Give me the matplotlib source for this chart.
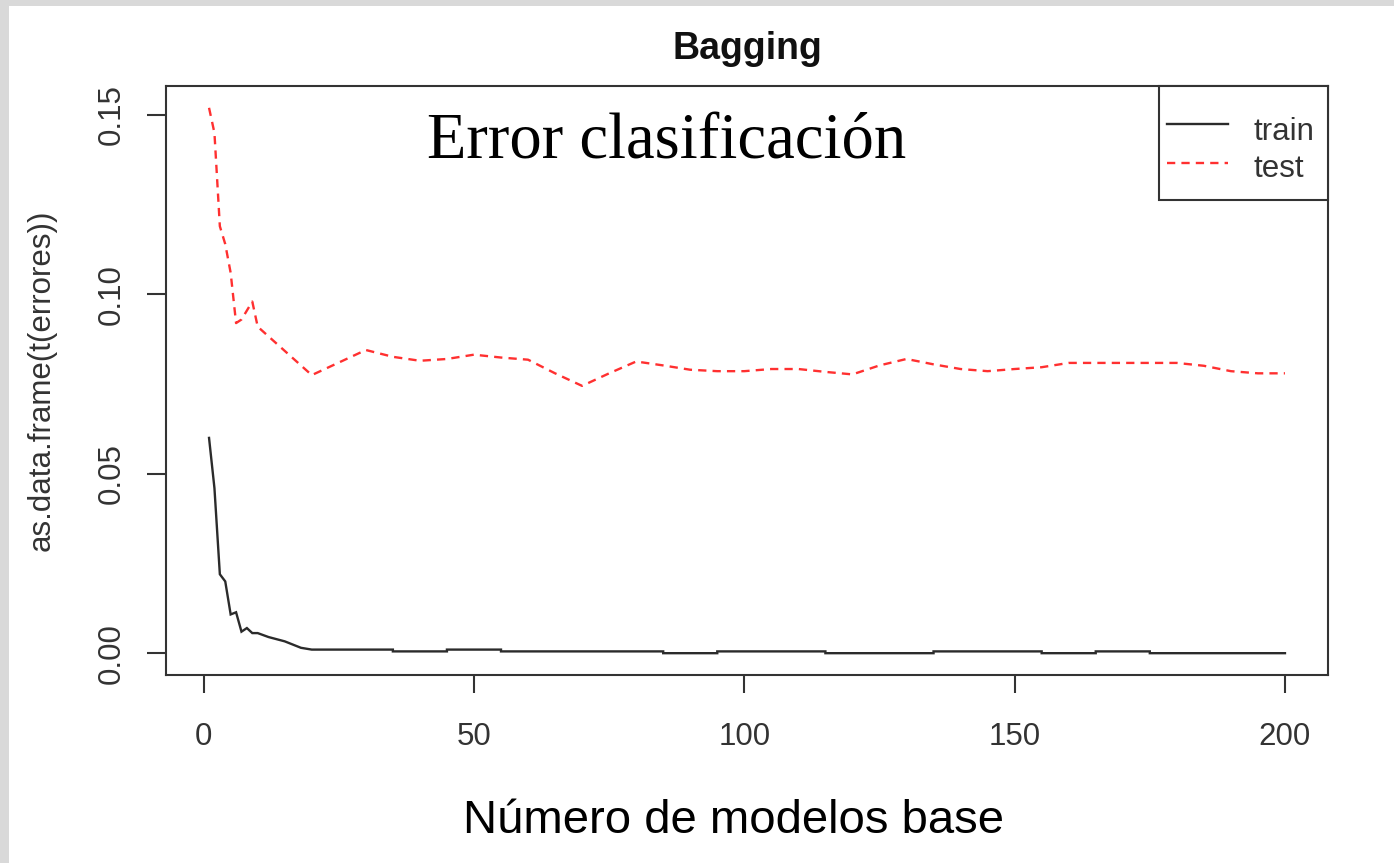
import matplotlib
matplotlib.use("Agg")
import matplotlib.pyplot as plt
from matplotlib.patches import Rectangle
from matplotlib.lines import Line2D

# Error de clasificación de bagging según el número de modelos base
train_n = [1, 2, 3, 4, 5, 6, 7, 8, 9, 10, 12, 15, 18, 20,
           35, 35, 45, 45, 55, 55, 85, 85, 95, 95, 115, 115,
           135, 135, 155, 155, 165, 165, 175, 175, 200]
train_err = [0.060, 0.046, 0.022, 0.020, 0.0108, 0.0114, 0.0060, 0.0070, 0.0056, 0.0056,
             0.0045, 0.0033, 0.0015, 0.0010,
             0.0010, 0.0005, 0.0005, 0.0010, 0.0010, 0.0005, 0.0005, 0.0, 0.0, 0.0005,
             0.0005, 0.0, 0.0, 0.0005, 0.0005, 0.0, 0.0, 0.0005, 0.0005, 0.0, 0.0]

test_n = [1, 2, 3, 4, 5, 6, 7, 8, 9, 10, 20, 30, 35, 40, 45, 50, 55, 60, 65, 70, 75,
          80, 85, 90, 95, 100, 105, 110, 115, 120, 125, 130, 135, 140, 145, 150,
          155, 160, 170, 180, 185, 190, 195, 200]
test_err = [0.152, 0.145, 0.119, 0.114, 0.106, 0.092, 0.093, 0.0955, 0.098, 0.091,
            0.0775, 0.0845, 0.0826, 0.0815, 0.082, 0.0832, 0.0824, 0.0818, 0.078, 0.0745,
            0.078, 0.0813, 0.0802, 0.0790, 0.0786, 0.0786, 0.0792, 0.0792, 0.0784, 0.0777,
            0.0802, 0.0820, 0.0805, 0.0792, 0.0786, 0.0792, 0.0797, 0.0809, 0.0809,
            0.0809, 0.0801, 0.0786, 0.0780, 0.0780]

series_labels = ["train", "test"]
x_ticks = [0, 50, 100, 150, 200]
y_ticks = [0.00, 0.05, 0.10, 0.15]
y_tick_labels = ["0.00", "0.05", "0.10", "0.15"]

W, H = 1394, 863
fig = plt.figure(figsize=(W / 100, H / 100), dpi=100)
fig.patch.set_facecolor("#d9d9d9")
fig.patches.append(Rectangle((9 / W, 0), 1 - 9 / W, 1 - 6 / H, transform=fig.transFigure,
                             facecolor="white", edgecolor="none", zorder=-10))

L, R, T, B = 166, 1328, 86, 675
ax = fig.add_axes([L / W, 1 - B / H, (R - L) / W, (B - T) / H])

ink = "#333333"
train_color = "#2b2b2b"
test_color = "#ff3030"
line_w = 1.7
dash = (0, (3.5, 2.6))

ax.plot(train_n, train_err, color=train_color, lw=line_w, solid_joinstyle="miter")
ax.plot(test_n, test_err, color=test_color, lw=line_w, linestyle=dash)

# R-style 4% padding of the data range
xmin, xmax = min(train_n + test_n), max(train_n + test_n)
ymin, ymax = min(train_err + test_err), max(train_err + test_err)
dx, dy = 0.04 * (xmax - xmin), 0.04 * (ymax - ymin)
ax.set_xlim(xmin - dx, xmax + dx)
ax.set_ylim(ymin - dy, ymax + dy)

for s in ax.spines.values():
    s.set_color(ink)
    s.set_linewidth(1.5)

tick_font = dict(family="Liberation Sans", size=22.5)
ax.set_xticks(x_ticks)
ax.set_xticklabels([str(v) for v in x_ticks], fontdict=tick_font, color=ink)
ax.set_yticks(y_ticks)
ax.set_yticklabels(y_tick_labels, fontdict=tick_font, color=ink,
                   rotation=90, va="center", ha="right")
ax.tick_params(axis="x", length=13, width=1.5, color=ink, pad=21)
ax.tick_params(axis="y", length=13.5, width=1.5, color=ink, pad=15)

# Legend box in the upper right corner
lx0 = (1159 - L) / (R - L)
ly0 = (B - 200) / (B - T)
ax.add_patch(Rectangle((lx0, ly0), 1 - lx0, 1 - ly0, transform=ax.transAxes,
                       facecolor="white", edgecolor=ink, lw=1.5, zorder=5, clip_on=False))
hx0, hx1 = (1167 - L) / (R - L), (1228 - L) / (R - L)
tx = (1253 - L) / (R - L)
rows = [(B - 124) / (B - T), (B - 163) / (B - T)]
baselines = [(B - 140) / (B - T), (B - 177) / (B - T)]
styles = [dict(color=train_color, lw=line_w),
          dict(color=test_color, lw=line_w, linestyle=dash)]
for yy, yb, lab, st in zip(rows, baselines, series_labels, styles):
    ax.add_line(Line2D([hx0, hx1], [yy, yy], transform=ax.transAxes, zorder=6, **st))
    ax.text(tx, yb, lab, transform=ax.transAxes, ha="left", va="baseline",
            fontsize=22.5, family="Liberation Sans", color=ink, zorder=6)

fig.text((L + R) / 2 / W, 1 - 49 / H, "Bagging", ha="center", va="center",
         fontsize=27, fontweight="bold", family="Liberation Sans", color="#111111")
fig.text(667 / W, 1 - 158 / H, "Error clasificación", ha="center", va="baseline",
         fontsize=46.5, family="Liberation Serif", color="black")
fig.text(42 / W, 1 - (T + B) / 2 / H, "as.data.frame(t(errores))", rotation=90,
         ha="center", va="center", fontsize=22.5, family="Liberation Sans", color=ink)
fig.text(734 / W, 1 - 833 / H, "Número de modelos base", ha="center", va="baseline",
         fontsize=34, family="Liberation Sans", color="black")

fig.savefig("out.png", dpi=100, facecolor=fig.get_facecolor())
